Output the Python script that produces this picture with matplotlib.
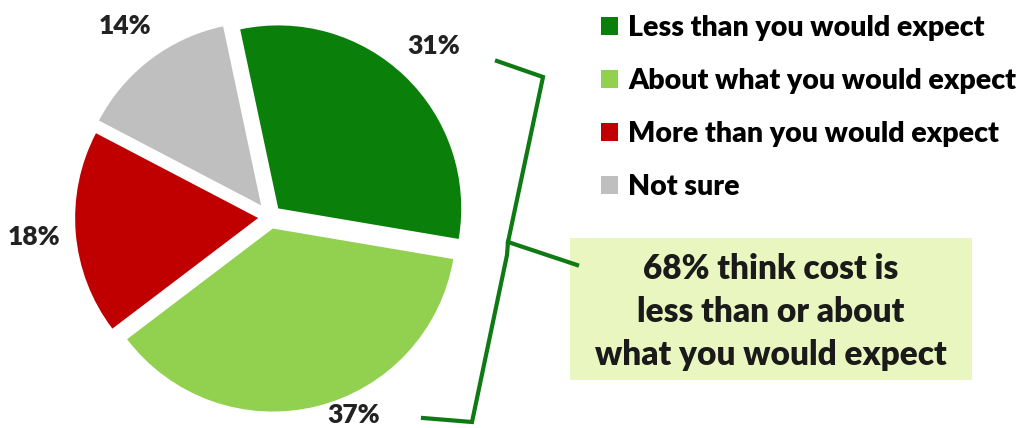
import matplotlib
matplotlib.use('Agg')
import matplotlib.pyplot as plt
from matplotlib.patches import Rectangle
from matplotlib.lines import Line2D

plt.rcParams['font.family'] = ['Lato', 'DejaVu Sans']
plt.rcParams['font.weight'] = 'bold'

# data
categories = ['Less than you would expect', 'About what you would expect',
              'More than you would expect', 'Not sure']
values = [31, 37, 18, 14]
colors = ['#0a7f0a', '#92d050', '#c00000', '#bfbfbf']
callout = '68% think cost is\nless than or about\nwhat you would expect'

W, H = 1020, 428
fig = plt.figure(figsize=(W / 100, H / 100), dpi=100)

# pie axes placed in pixels: radius 183 px, centre at (270, 217)
R = 183
cx, cy = 270, 217
lim = 1.4
half = lim * R
ax = fig.add_axes([(cx - half) / W, (H - cy - half) / H, 2 * half / W, 2 * half / H])

wedges, texts, autotexts = ax.pie(values, colors=colors, startangle=102, counterclock=False,
                                  explode=[0.065, 0.065, 0.065, 0.08],
                                  autopct='%.0f%%', pctdistance=1.23,
                                  textprops=dict(fontsize=19, fontweight='heavy', color='#222222'))
autotexts[1].set_position(((354 - cx) / R, (cy - 415) / R))
ax.set_xlim(-lim, lim)
ax.set_ylim(-lim, lim)
ax.axis('off')

# legend
ax.legend(wedges, categories, loc='upper left', bbox_to_anchor=(601 / W, 1 - 15 / H),
          bbox_transform=fig.transFigure, frameon=False,
          prop=dict(size=20.5, weight='heavy'),
          handlelength=0.6, handleheight=0.6, handletextpad=0.35,
          labelspacing=0.95, borderpad=0, borderaxespad=0)

# callout box
fig.patches.append(Rectangle((570 / W, 1 - 380 / H), (972 - 570) / W, (380 - 238) / H,
                             transform=fig.transFigure, facecolor='#eaf6bf',
                             edgecolor='none', zorder=0))
fig.text(771 / W, 1 - 312 / H, callout, ha='center', va='center', fontsize=24,
         fontweight='heavy', color='#1a1a1a', linespacing=1.42)

# brace
def px(points):
    return [p[0] / W for p in points], [1 - p[1] / H for p in points]

for pts in ([(497, 61), (543, 77), (508, 242), (577, 265)],
            [(508, 242), (507, 255), (472, 422), (423, 418)]):
    xs, ys = px(pts)
    fig.lines.append(Line2D(xs, ys, transform=fig.transFigure, color='#0f7a14',
                            lw=3, solid_joinstyle='miter'))

plt.savefig('out.png', dpi=100)
